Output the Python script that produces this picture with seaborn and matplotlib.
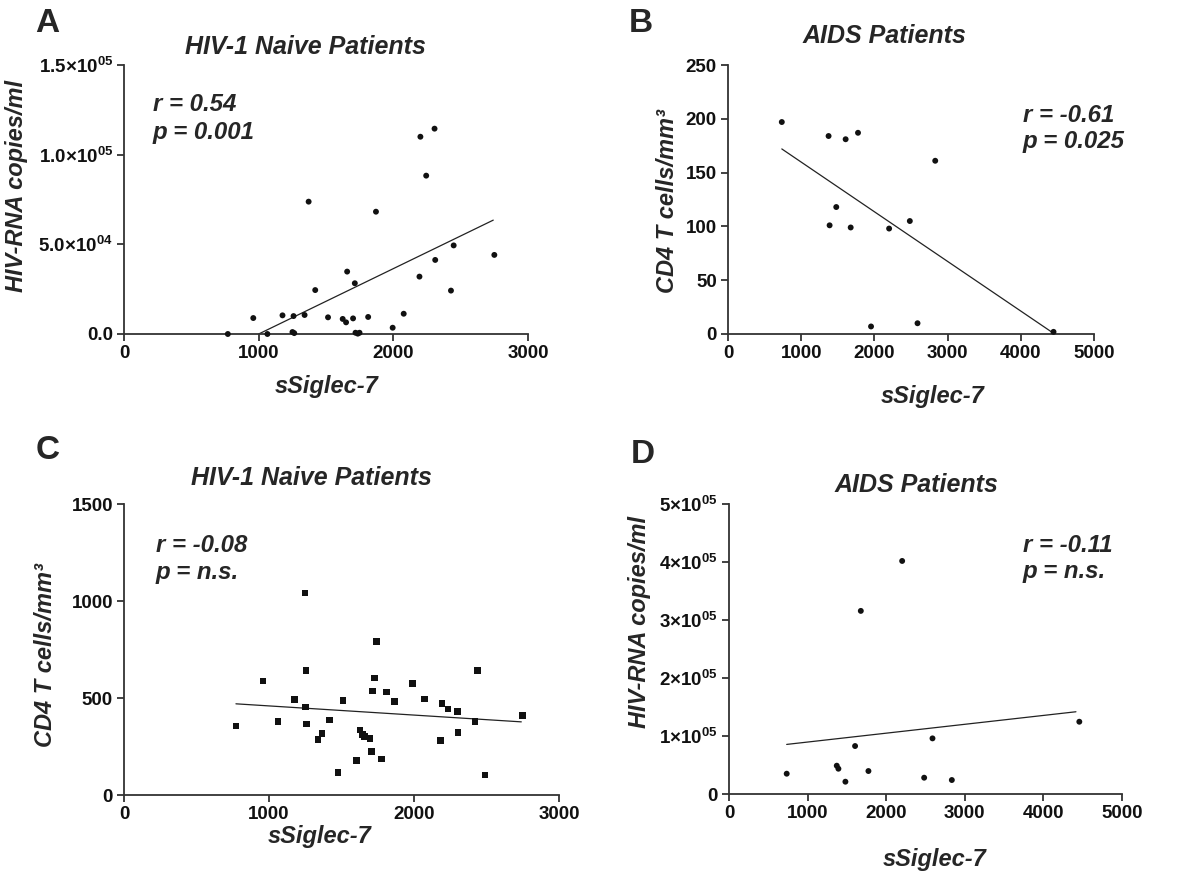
import numpy as np
import pandas as pd
import matplotlib
matplotlib.use('Agg')
import matplotlib.pyplot as plt
import seaborn as sns

# data
a_x = [771, 960, 1065, 1177, 1259, 1251, 1264, 1341, 1371, 1420, 1515, 1624, 1649, 1657,
       1701, 1714, 1719, 1736, 1749, 1813, 1871, 1995, 2077, 2194, 2201, 2306, 2244, 2311,
       2428, 2448, 2750]
a_y = [0, 8900, 0, 10400, 10000, 1100, 500, 10600, 73800, 24500, 9300, 8400, 6500, 34800,
       8700, 28300, 700, 200, 700, 9500, 68200, 3500, 11300, 32000, 110000, 114500, 88300,
       41300, 24200, 49400, 44100]
a_fit_x = [1000, 2742]
a_fit_y = [0, 63500]

b_x = [735, 1374, 1388, 1479, 1607, 1676, 1776, 1954, 2201, 2484, 2589, 2831, 4447]
b_y = [197, 184, 101, 118, 181, 99, 187, 7, 98, 105, 10, 161, 2]
b_fit_x = [735, 4440]
b_fit_y = [172, 1]

c_x = [772, 958, 1063, 1176, 1249, 1254, 1251, 1258, 1339, 1366, 1417, 1476, 1509, 1603,
       1628, 1646, 1658, 1695, 1708, 1713, 1729, 1743, 1777, 1809, 1865, 1989, 2071, 2184,
       2193, 2234, 2301, 2305, 2422, 2439, 2489, 2748]
c_y = [356, 587, 380, 492, 1041, 642, 454, 366, 286, 316, 387, 115, 488, 179,
       335, 311, 301, 291, 224, 535, 604, 791, 186, 530, 483, 575, 494, 280,
       471, 444, 430, 323, 378, 642, 103, 411]
c_fit_x = [772, 2740]
c_fit_y = [470, 377]

d_x = [734, 1371, 1392, 1481, 1604, 1677, 1774, 2203, 2483, 2589, 2835, 4457]
d_y = [35000, 48800, 43600, 21200, 82700, 315700, 39600, 401800, 28100, 95900, 24100, 124600]
d_fit_x = [734, 4414]
d_fit_y = [85500, 141800]

a_yticks = [0, 50000, 100000, 150000]
a_ylabels = ['0.0', r'$5.0{\times}10^{04}$', r'$1.0{\times}10^{05}$', r'$1.5{\times}10^{05}$']
b_yticks = [0, 50, 100, 150, 200, 250]
c_yticks = [0, 500, 1000, 1500]
d_yticks = [0, 100000, 200000, 300000, 400000, 500000]
d_ylabels = ['0', r'$1{\times}10^{05}$', r'$2{\times}10^{05}$', r'$3{\times}10^{05}$',
             r'$4{\times}10^{05}$', r'$5{\times}10^{05}$']
xticks_3k = [0, 1000, 2000, 3000]
xticks_5k = [0, 1000, 2000, 3000, 4000, 5000]

sns.set_theme(style='ticks')
plt.rcParams['font.family'] = ['Liberation Sans', 'DejaVu Sans']
plt.rcParams.update({
    'mathtext.fontset': 'custom',
    'mathtext.rm': 'Liberation Sans:bold',
    'mathtext.bf': 'Liberation Sans:bold',
    'mathtext.it': 'Liberation Sans:bold:italic',
    'axes.edgecolor': '#333333',
    'axes.linewidth': 1.3,
    'xtick.color': '#333333',
    'ytick.color': '#333333',
    'xtick.labelcolor': '#111111',
    'ytick.labelcolor': '#111111',
})

W, H = 1200, 871
fig = plt.figure(figsize=(W / 100, H / 100), dpi=100)


def px_axes(left, right, top, bottom):
    return fig.add_axes([left / W, 1 - bottom / H, (right - left) / W, (bottom - top) / H])


def panel(ax, x, y, fx, fy, marker, size, xmax, ymax, xticks, yticks, ylabels,
          ylabel, ylab_pos, xlab_pos):
    df = pd.DataFrame({'x': x, 'y': y})
    sns.scatterplot(data=df, x='x', y='y', ax=ax, marker=marker, s=size,
                    color='#111111', edgecolor='none', clip_on=False, zorder=3)
    fit = pd.DataFrame({'x': fx, 'y': fy})
    sns.lineplot(data=fit, x='x', y='y', ax=ax, color='#222222', lw=0.9)
    ax.set_xlim(0, xmax)
    ax.set_ylim(0, ymax)
    ax.set_xticks(xticks)
    ax.set_xticklabels([str(t) for t in xticks])
    ax.set_yticks(yticks)
    ax.set_yticklabels(ylabels if ylabels else [str(t) for t in yticks])
    ax.tick_params(length=5, width=1.3, labelsize=13.5, pad=3)
    for lab in ax.get_xticklabels() + ax.get_yticklabels():
        lab.set_fontweight('bold')
    sns.despine(ax=ax)
    ax.set_xlabel('sSiglec-7', fontsize=17, fontweight='bold', fontstyle='italic', va='baseline')
    ax.xaxis.set_label_coords(*xlab_pos)
    ax.set_ylabel(ylabel, fontsize=17, fontweight='bold', fontstyle='italic', va='center')
    ax.yaxis.set_label_coords(*ylab_pos)


axA = px_axes(124, 528, 65, 334)
panel(axA, a_x, a_y, a_fit_x, a_fit_y, 'o', 18, 3000, 150000, xticks_3k, a_yticks, a_ylabels,
      'HIV-RNA copies/ml', (-0.265, 0.55), (0.502, -0.219))

axB = px_axes(728, 1094, 65, 334)
panel(axB, b_x, b_y, b_fit_x, b_fit_y, 'o', 18, 5000, 250, xticks_5k, b_yticks, None,
      'CD4 T cells/mm³', (-0.165, 0.494), (0.56, -0.257))

axC = px_axes(124, 559, 504, 795)
panel(axC, c_x, c_y, c_fit_x, c_fit_y, 's', 22, 3000, 1500, xticks_3k, c_yticks, None,
      'CD4 T cells/mm³', (-0.18, 0.481), (0.45, -0.165))

axD = px_axes(729, 1122, 504, 794)
panel(axD, d_x, d_y, d_fit_x, d_fit_y, 'o', 18, 5000, 500000, xticks_5k, d_yticks, d_ylabels,
      'HIV-RNA copies/ml', (-0.228, 0.593), (0.522, -0.248))


def ftext(x, y, s, **kw):
    fig.text(x / W, 1 - y / H, s, va='baseline', **kw)


# panel letters
for letter, lx, ly in [('A', 35, 32), ('B', 629, 32), ('C', 36, 459), ('D', 631, 463)]:
    ftext(lx, ly, letter, fontsize=24, fontweight='bold')

# titles
bi = dict(fontweight='bold', fontstyle='italic')
ftext(305, 54, 'HIV-1 Naive Patients', fontsize=18, ha='center', **bi)
ftext(884, 43, 'AIDS Patients', fontsize=18, ha='center', **bi)
ftext(311, 485, 'HIV-1 Naive Patients', fontsize=18, ha='center', **bi)
ftext(916, 492, 'AIDS Patients', fontsize=18, ha='center', **bi)

# correlation stats
ftext(153, 111, 'r = 0.54', fontsize=17.3, **bi)
ftext(153, 139, 'p = 0.001', fontsize=17.3, **bi)
ftext(1023, 122, 'r = -0.61', fontsize=17.3, **bi)
ftext(1023, 148, 'p = 0.025', fontsize=17.3, **bi)
ftext(156, 552, 'r = -0.08', fontsize=17.3, **bi)
ftext(156, 579, 'p = n.s.', fontsize=17.3, **bi)
ftext(1023, 552, 'r = -0.11', fontsize=17.3, **bi)
ftext(1023, 578, 'p = n.s.', fontsize=17.3, **bi)

fig.savefig('out.png', dpi=100, facecolor='white')
